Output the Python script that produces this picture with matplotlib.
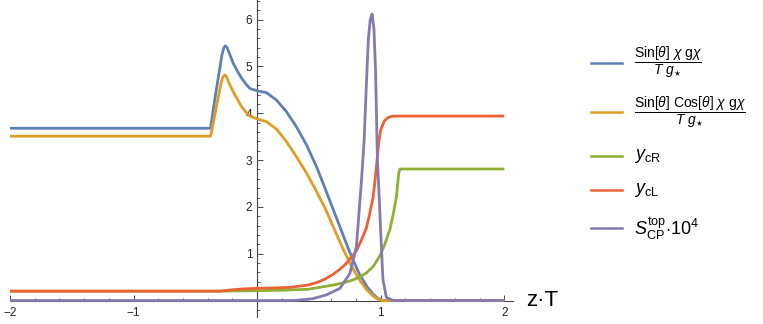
import numpy as np
import matplotlib
matplotlib.use("Agg")
import matplotlib.pyplot as plt
from matplotlib.lines import Line2D
from matplotlib.ticker import FixedLocator

plt.rcParams['font.family'] = ['Liberation Sans', 'DejaVu Sans']
plt.rcParams['mathtext.fontset'] = 'custom'
plt.rcParams['mathtext.rm'] = 'Liberation Sans'
plt.rcParams['mathtext.it'] = 'Liberation Sans:italic'
plt.rcParams['mathtext.bf'] = 'Liberation Sans:bold'

# --- data ---
blue_x = [-2.0, -0.377, -0.34, -0.30, -0.285, -0.27, -0.258, -0.245, -0.225, -0.194, -0.16,
          -0.126, -0.09, -0.059, 0.0, 0.076, 0.157, 0.238, 0.318, 0.40, 0.48, 0.534, 0.60,
          0.67, 0.73, 0.776, 0.83, 0.89, 0.94, 0.98, 1.02, 2.0]
blue_y = [3.68, 3.68, 4.35, 5.00, 5.25, 5.40, 5.44, 5.41, 5.28, 5.07, 4.90,
          4.75, 4.62, 4.53, 4.48, 4.44, 4.28, 4.03, 3.71, 3.32, 2.86, 2.50, 2.05,
          1.57, 1.16, 0.86, 0.55, 0.29, 0.13, 0.04, 0.0, 0.0]

orange_x = [-2.0, -0.377, -0.34, -0.30, -0.285, -0.272, -0.262, -0.25, -0.23, -0.194, -0.16,
            -0.126, -0.09, -0.059, 0.0, 0.076, 0.157, 0.238, 0.318, 0.40, 0.466, 0.55, 0.62,
            0.69, 0.75, 0.82, 0.89, 0.95, 0.99, 1.03, 2.0]
orange_y = [3.51, 3.51, 4.00, 4.55, 4.72, 4.80, 4.82, 4.79, 4.66, 4.46, 4.30,
            4.14, 4.02, 3.94, 3.88, 3.82, 3.66, 3.39, 3.07, 2.72, 2.40, 1.97, 1.55,
            1.13, 0.80, 0.47, 0.22, 0.07, 0.01, 0.0, 0.0]

ycR_x = [-2.0, -0.30, 0.0, 0.2, 0.41, 0.614, 0.70, 0.776, 0.84, 0.884, 0.94, 0.99,
         1.03, 1.073, 1.10, 1.127, 1.14, 1.145, 1.155, 2.0]
ycR_y = [0.20, 0.20, 0.21, 0.22, 0.24, 0.33, 0.38, 0.44, 0.52, 0.59, 0.73, 0.94,
         1.18, 1.51, 1.83, 2.22, 2.57, 2.72, 2.81, 2.81]

ycL_x = [-2.0, -0.30, -0.2, -0.1, 0.0, 0.15, 0.264, 0.41, 0.48, 0.55, 0.614, 0.67,
         0.72, 0.76, 0.80, 0.84, 0.884, 0.91, 0.938, 0.955, 0.97, 0.985, 1.0, 1.03,
         1.06, 1.10, 2.0]
ycL_y = [0.20, 0.20, 0.23, 0.25, 0.26, 0.27, 0.28, 0.33, 0.38, 0.46, 0.56, 0.67,
         0.79, 0.92, 1.05, 1.27, 1.55, 1.85, 2.20, 2.60, 3.00, 3.40, 3.65, 3.84,
         3.91, 3.94, 3.94]

scp_x = [-2.0, 0.30, 0.45, 0.56, 0.67, 0.75, 0.803, 0.844, 0.865, 0.884, 0.90, 0.915,
         0.93, 0.945, 0.958, 0.973, 0.984, 1.005, 1.018, 1.045, 1.10, 2.0]
scp_y = [0.0, 0.0, 0.04, 0.12, 0.26, 0.58, 1.15, 2.57, 3.40, 4.64, 5.60, 6.00,
         6.12, 5.80, 4.90, 3.00, 2.40, 1.15, 0.44, 0.07, 0.0, 0.0]

labels = [
    r'$\dfrac{\mathrm{Sin}[\theta]\ \chi\ \mathrm{g}\chi}{T\ g_{\star}}$',
    r'$\dfrac{\mathrm{Sin}[\theta]\ \mathrm{Cos}[\theta]\ \chi\ \mathrm{g}\chi}{T\ g_{\star}}$',
    r'$y_{\mathrm{cR}}$',
    r'$y_{\mathrm{cL}}$',
    r'$S_{\mathrm{CP}}^{\mathrm{top}}{\cdot}10^4$',
]
colors = ['#5E81B5', '#E19C24', '#8FB032', '#EB6235', '#8778B3']

W, H = 763, 324
fig = plt.figure(figsize=(W / 100, H / 100), dpi=100)
ax = fig.add_axes([10 / W, 1 - 316.9 / H, 503 / W, 316.9 / H])

series = [(blue_x, blue_y), (orange_x, orange_y), (ycR_x, ycR_y), (ycL_x, ycL_y), (scp_x, scp_y)]
for (xs, ys), c in zip(series, colors):
    ax.plot(xs, ys, color=c, lw=2.0, solid_joinstyle='round', solid_capstyle='butt', clip_on=False)

ax.set_xlim(-2, 2.07)
ax.set_ylim(-0.35, 6.42)

for s in ['top', 'right']:
    ax.spines[s].set_visible(False)
ax.spines['left'].set_position(('data', 0))
ax.spines['bottom'].set_position(('data', 0))
for s in ['left', 'bottom']:
    ax.spines[s].set_color('#444444')
    ax.spines[s].set_linewidth(0.8)
    ax.spines[s].set_zorder(0.5)

ax.xaxis.set_major_locator(FixedLocator([-2, -1, 1, 2]))
ax.xaxis.set_minor_locator(FixedLocator(np.round(np.arange(-2, 2.01, 0.2), 2)))
ax.yaxis.set_major_locator(FixedLocator([1, 2, 3, 4, 5, 6]))
ax.yaxis.set_minor_locator(FixedLocator(np.round(np.arange(-0.2, 6.41, 0.2), 2)))
ax.tick_params(which='major', direction='in', length=4, width=0.7, color='#444444',
               labelsize=8.5, labelcolor='#222222')
ax.tick_params(which='minor', direction='in', length=2.2, width=0.6, color='#444444')
ax.tick_params(axis='x', pad=5)
ax.tick_params(axis='y', pad=3.5)
ax.set_xticklabels(['\u22122', '\u22121', '1', '2'])
ax.patch.set_visible(False)

ax.text(2.18, 0, 'z\u00b7T', fontsize=16, va='center', ha='left', clip_on=False)

# legend drawn by hand to keep the reference spacing
leg_y = [62.7, 112.3, 155.7, 190.0, 228.3]
leg_size = [10, 10, 13, 13, 13]
for lab, c, yy, fs in zip(labels, colors, leg_y, leg_size):
    fig.add_artist(Line2D([590.7 / W, 621.7 / W], [1 - yy / H] * 2, color=c, lw=1.8,
                          transform=fig.transFigure))
    fig.text(634 / W, 1 - yy / H, lab, fontsize=fs, va='center', ha='left')

fig.savefig('out.png', dpi=100)
